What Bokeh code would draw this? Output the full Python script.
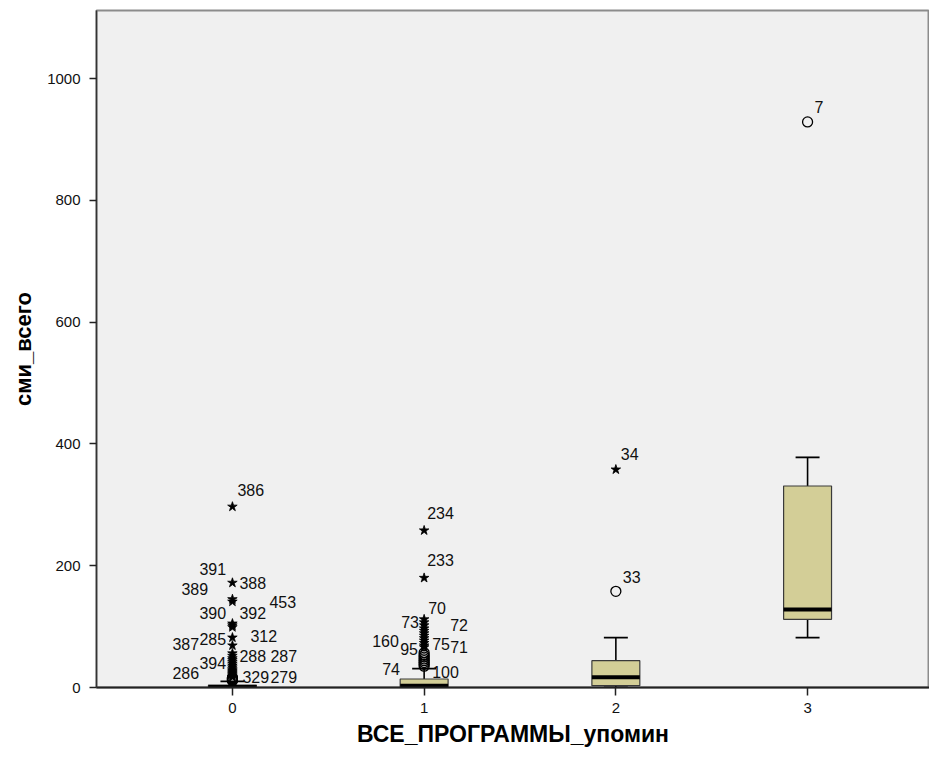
from bokeh.plotting import figure
from bokeh.models import Range1d, FixedTicker, ColumnDataSource
from bokeh.core.properties import value
from bokeh.embed import file_html
from bokeh.resources import INLINE

# ---------------- data ----------------
categories = [0, 1, 2, 3]
q1 = [0, 0, 3, 112]
median = [1, 3, 17, 128]
q3 = [4, 14, 44, 331]
whisker_low = [0, 0, 0, 82]
whisker_high = [10, 31, 82, 378]

# outliers (circles) and extremes (stars)
circ_group = [0, 0, 0, 0, 0, 0, 1, 1, 1, 1, 1, 1, 1, 1, 2, 3]
circ_value = [16, 15, 14, 13, 12, 11, 57, 53, 50, 47, 44, 41, 38, 35, 158, 929]

star_group_0 = [0] * 25
star_value_0 = [297, 172, 145, 141, 105, 102, 99, 82, 69, 56, 52, 48, 45, 42,
                39, 36, 33, 30, 28, 26, 24, 22, 20, 18, 17]
star_group_1 = [1] * 14
star_value_1 = [258, 180, 112, 107, 102, 97, 93, 89, 85, 81, 77, 73, 69, 66]
star_group_2 = [2]
star_value_2 = [358]

# case labels
label_text = ["386", "391", "388", "389", "453", "390", "392", "387", "285", "312",
              "394", "288", "287", "286", "329", "279",
              "234", "233", "70", "73", "72", "160", "95", "75", "71", "74", "100",
              "34", "33", "7"]
label_group = [0] * 16 + [1] * 11 + [2, 2, 3]
label_y = [325, 195, 172, 161, 141, 122, 123, 71, 80, 84,
           41, 51, 51, 23, 18, 18,
           286, 209, 130, 108, 102, 76, 64, 72, 66, 30, 25,
           383, 182, 954]
label_dx = [5, -33, 7, -51, 37, -33, 7, -60, -33, 18,
            -33, 7, 38, -60, 10, 38,
            3, 3, 4, -23, 26, -52, -24, 8, 26, -42, 8,
            5, 7, 7]

y_ticks = [0, 200, 400, 600, 800, 1000]
x_label = "ВСЕ_ПРОГРАММЫ_упомин"
y_label = "сми_всего"

# ---------------- figure ----------------
FONT = "Liberation Sans"
p = figure(width=929, height=750,
           x_range=Range1d(-0.709, 3.636), y_range=Range1d(0, 1112),
           output_backend="svg", toolbar_location=None,
           min_border_left=96, min_border_top=10, min_border_right=0,
           min_border_bottom=63)
p.background_fill_color = "#F0F0F0"
p.border_fill_color = "white"
p.outline_line_color = "#8c8c8c"
p.outline_line_width = 2
p.xgrid.visible = False
p.ygrid.visible = False

box_w = 0.25
cap_w = 0.125

src = ColumnDataSource(dict(x=categories, q1=q1, q3=q3, med=median,
                            lo=whisker_low, hi=whisker_high,
                            l=[c - box_w / 2 for c in categories],
                            r=[c + box_w / 2 for c in categories],
                            cl=[c - cap_w / 2 for c in categories],
                            cr=[c + cap_w / 2 for c in categories]))

# whiskers
p.segment(x0="x", y0="q3", x1="x", y1="hi", source=src, line_color="black", line_width=1.6)
p.segment(x0="x", y0="q1", x1="x", y1="lo", source=src, line_color="black", line_width=1.6)
p.segment(x0="cl", y0="hi", x1="cr", y1="hi", source=src, line_color="black", line_width=1.8)
p.segment(x0="cl", y0="lo", x1="cr", y1="lo", source=src, line_color="black", line_width=1.8)
# boxes
p.vbar(x="x", width=box_w, bottom="q1", top="q3", source=src,
       fill_color="#D3CE97", line_color="#3a3a3a", line_width=1.2)
# medians
p.segment(x0="l", y0="med", x1="r", y1="med", source=src, line_color="black", line_width=4)

# outliers
p.scatter(x=circ_group, y=circ_value, marker="circle", size=10,
          fill_color=None, line_color="black", line_width=1.3)
for g, v in ((star_group_0, star_value_0), (star_group_1, star_value_1), (star_group_2, star_value_2)):
    p.scatter(x=g, y=v, marker="star", size=10, fill_color="black", line_color="black", line_width=0.8)

# labels
p.text(x=label_group, y=label_y, text=label_text, x_offset=label_dx,
       text_font=value(FONT), text_font_size="16px", text_color="#111111",
       text_baseline="middle", text_align="left")

# axes
p.xaxis.ticker = FixedTicker(ticks=categories)
p.yaxis.ticker = FixedTicker(ticks=y_ticks)
p.xaxis.minor_tick_line_color = None
p.yaxis.minor_tick_line_color = None
for ax in (p.xaxis[0], p.yaxis[0]):
    ax.major_label_text_font = FONT
    ax.major_label_text_font_size = "15px"
    ax.major_label_text_color = "#111111"
    ax.axis_label_text_font = FONT
    ax.axis_label_text_font_style = "bold"
    ax.axis_label_text_color = "black"
    ax.major_tick_in = 0
    ax.major_tick_line_color = "#222222"
    ax.major_tick_line_width = 1.5

p.xaxis.axis_label = x_label
p.yaxis.axis_label = y_label
p.xaxis.axis_label_text_font_size = "23px"
p.yaxis.axis_label_text_font_size = "22px"
p.xaxis.axis_line_color = "#222222"
p.xaxis.axis_line_width = 2
p.yaxis.axis_line_color = "#333333"
p.yaxis.axis_line_width = 1.5
p.xaxis.major_tick_out = 8
p.yaxis.major_tick_out = 7
p.xaxis.major_label_standoff = 7
p.yaxis.major_label_standoff = 9
p.xaxis.axis_label_standoff = 5
p.yaxis.axis_label_standoff = 8

open("out.html", "w").write(file_html(p, INLINE))
